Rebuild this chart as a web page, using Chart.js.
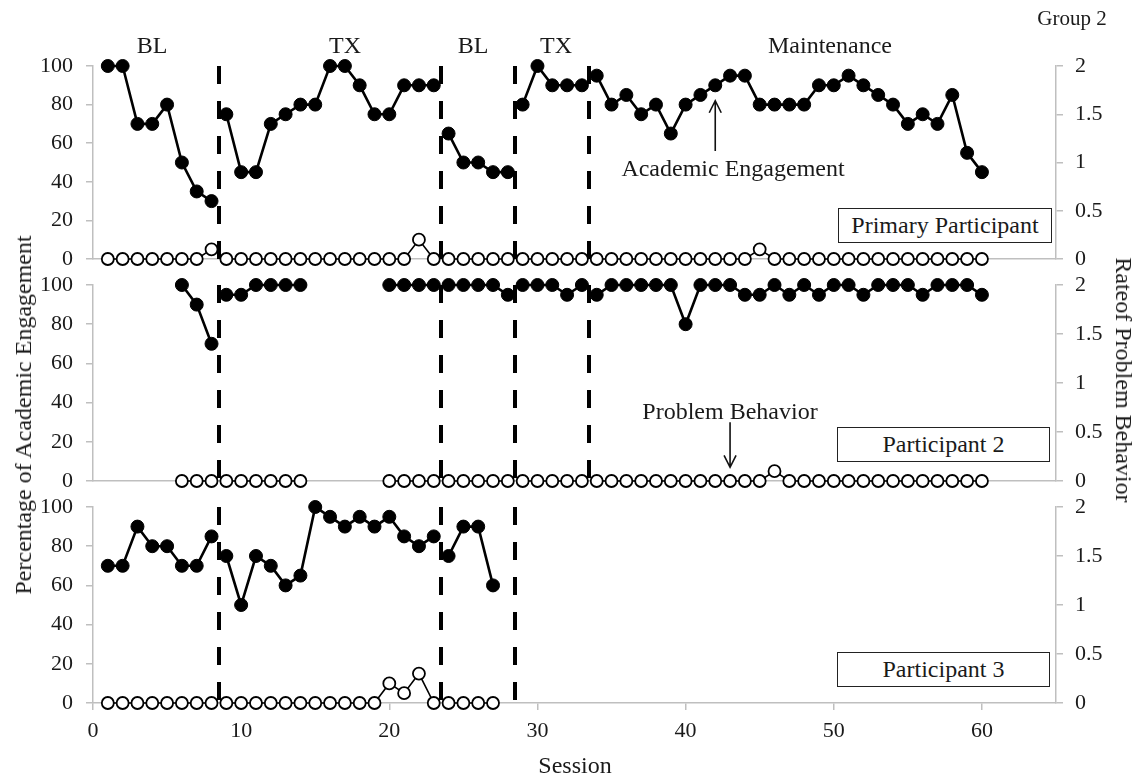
<!DOCTYPE html>
<html>
<head>
<meta charset="utf-8">
<script src="https://cdn.jsdelivr.net/npm/chart.js@4.4.1/dist/chart.umd.min.js"></script>
<style>
  body { margin: 0; background: #fff; }
  #wrap { position: relative; width: 1141px; height: 778px; font-family: "Liberation Serif", "Times New Roman", serif; color: #1a1a1a; }
  #wrap canvas { position: absolute; left: 0; top: 0; }
  .lbl { position: absolute; transform: translate(-50%, -50%); white-space: nowrap; font-size: 24px; line-height: 1; }
  .rotL { transform: translate(-50%, -50%) rotate(-90deg); }
  .rotR { transform: translate(-50%, -50%) rotate(90deg); }
  .box { position: absolute; border: 1.5px solid #222; background: #fff; box-sizing: border-box; font-size: 24px;
         display: flex; align-items: center; justify-content: center; white-space: nowrap; }
</style>
</head>
<body>
<div id="wrap">
  <canvas id="panel1" width="1141" height="778"></canvas>
  <canvas id="panel2" width="1141" height="778"></canvas>
  <canvas id="panel3" width="1141" height="778"></canvas>

  <div class="lbl" style="left:1072px; top:18px; font-size:21px;">Group 2</div>
  <div class="lbl" style="left:152px; top:45px;">BL</div>
  <div class="lbl" style="left:345px; top:45px;">TX</div>
  <div class="lbl" style="left:473px; top:45px;">BL</div>
  <div class="lbl" style="left:556px; top:45px;">TX</div>
  <div class="lbl" style="left:830px; top:45px;">Maintenance</div>

  <div class="lbl" style="left:733px; top:168px;">Academic Engagement</div>
  <div class="lbl" style="left:730px; top:411px;">Problem Behavior</div>

  <div class="box" style="left:838px; top:208px; width:214px; height:35px;">Primary Participant</div>
  <div class="box" style="left:837px; top:427px; width:213px; height:35px;">Participant 2</div>
  <div class="box" style="left:837px; top:652px; width:213px; height:35px;">Participant 3</div>

  <div class="lbl rotL" style="left:23px; top:415px;">Percentage of Academic Engagement</div>
  <div class="lbl rotR" style="left:1124px; top:380px;">Rateof Problem Behavior</div>
  <div class="lbl" style="left:575px; top:765px;">Session</div>
</div>

<script>
// sessions 1..60
const sessions = Array.from({ length: 60 }, (_, i) => i + 1);
const xTicks = [0, 10, 20, 30, 40, 50, 60];
const leftTicks = [0, 20, 40, 60, 80, 100];
const rightTicks = [0, 0.5, 1, 1.5, 2];

// Primary participant
const p1Engagement = [100, 100, 70, 70, 80, 50, 35, 30,
  75, 45, 45, 70, 75, 80, 80, 100, 100, 90, 75, 75, 90, 90, 90,
  65, 50, 50, 45, 45,
  80, 100, 90, 90, 90,
  95, 80, 85, 75, 80, 65, 80, 85, 90, 95, 95, 80, 80, 80, 80, 90, 90, 95, 90, 85, 80, 70, 75, 70, 85, 55, 45];
const p1Problem = [0, 0, 0, 0, 0, 0, 0, 0.1,
  0, 0, 0, 0, 0, 0, 0, 0, 0, 0, 0, 0, 0, 0.2, 0,
  0, 0, 0, 0, 0,
  0, 0, 0, 0, 0,
  0, 0, 0, 0, 0, 0, 0, 0, 0, 0, 0, 0.1, 0, 0, 0, 0, 0, 0, 0, 0, 0, 0, 0, 0, 0, 0, 0];

// Participant 2
const p2Engagement = [null, null, null, null, null, 100, 90, 70,
  95, 95, 100, 100, 100, 100, null, null, null, null, null, 100, 100, 100, 100,
  100, 100, 100, 100, 95,
  100, 100, 100, 95, 100,
  95, 100, 100, 100, 100, 100, 80, 100, 100, 100, 95, 95, 100, 95, 100, 95, 100, 100, 95, 100, 100, 100, 95, 100, 100, 100, 95];
const p2Problem = [null, null, null, null, null, 0, 0, 0,
  0, 0, 0, 0, 0, 0, null, null, null, null, null, 0, 0, 0, 0,
  0, 0, 0, 0, 0,
  0, 0, 0, 0, 0,
  0, 0, 0, 0, 0, 0, 0, 0, 0, 0, 0, 0, 0.1, 0, 0, 0, 0, 0, 0, 0, 0, 0, 0, 0, 0, 0, 0];

// Participant 3
const p3Engagement = [70, 70, 90, 80, 80, 70, 70, 85,
  75, 50, 75, 70, 60, 65, 100, 95, 90, 95, 90, 95, 85, 80, 85,
  75, 90, 90, 60];
const p3Problem = [0, 0, 0, 0, 0, 0, 0, 0,
  0, 0, 0, 0, 0, 0, 0, 0, 0, 0, 0, 0.2, 0.1, 0.3, 0,
  0, 0, 0, 0];

const phases1 = [8.5, 23.5, 28.5, 33.5];
const phases2 = [8.5, 23.5, 28.5, 33.5];
const phases3 = [8.5, 23.5, 28.5];

const axisGrey = '#bfbfbf';
const serif = 'Liberation Serif';
Chart.defaults.font.family = serif;

// split the series at the phase change lines
function buildPoints(values, breaks) {
  const pts = [];
  values.forEach((v, i) => {
    const s = sessions[i];
    breaks.forEach(b => { if (b > s - 1 && b < s) pts.push({ x: b, y: null }); });
    pts.push({ x: s, y: v });
  });
  return pts;
}

function panelPlugin(lines, arrows) {
  return {
    id: 'panelExtras',
    beforeDatasetsDraw(chart) {
      const { ctx, chartArea, scales } = chart;
      ctx.save();
      ctx.strokeStyle = '#000';
      ctx.lineWidth = 4;
      ctx.setLineDash([18, 17]);
      lines.forEach(v => {
        const x = Math.round(scales.x.getPixelForValue(v));
        ctx.beginPath();
        ctx.moveTo(x, chartArea.top);
        ctx.lineTo(x, chartArea.bottom);
        ctx.stroke();
      });
      ctx.restore();
    },
    afterDatasetsDraw(chart) {
      const { ctx, scales } = chart;
      ctx.save();
      ctx.strokeStyle = '#111';
      ctx.lineWidth = 1.6;
      arrows.forEach(a => {
        const x = scales.x.getPixelForValue(a.x);
        const y0 = scales.y.getPixelForValue(a.from);
        const y1 = scales.y.getPixelForValue(a.to);
        const dir = y1 < y0 ? 1 : -1;
        ctx.beginPath();
        ctx.moveTo(x, y0);
        ctx.lineTo(x, y1);
        ctx.moveTo(x - 6, y1 + dir * 12);
        ctx.lineTo(x, y1);
        ctx.lineTo(x + 6, y1 + dir * 12);
        ctx.stroke();
      });
      ctx.restore();
    }
  };
}

function makePanel(id, engagement, problem, phases, top, bottom, showX, arrows) {
  const xh = showX ? 50 : 0;
  return new Chart(document.getElementById(id), {
    type: 'line',
    data: {
      datasets: [{
        label: 'Problem Behavior',
        data: buildPoints(problem, phases),
        yAxisID: 'y2',
        borderColor: '#000',
        borderWidth: 1.6,
        pointRadius: 6,
        pointBorderWidth: 1.8,
        pointBackgroundColor: '#fff',
        pointBorderColor: '#000',
        spanGaps: false,
        tension: 0,
        clip: false
      }, {
        label: 'Academic Engagement',
        data: buildPoints(engagement, phases),
        yAxisID: 'y',
        borderColor: '#000',
        backgroundColor: '#000',
        borderWidth: 2.6,
        pointRadius: 6.5,
        pointBorderWidth: 1,
        pointBackgroundColor: '#000',
        pointBorderColor: '#000',
        spanGaps: false,
        tension: 0,
        clip: false
      }]
    },
    options: {
      responsive: false,
      animation: false,
      events: [],
      layout: { padding: { top: top, bottom: 778 - bottom - xh, left: 0, right: 0 } },
      plugins: { legend: { display: false }, tooltip: { enabled: false } },
      scales: {
        x: {
          type: 'linear',
          min: 0,
          max: 65,
          afterBuildTicks: s => { s.ticks = xTicks.map(v => ({ value: v })); },
          afterFit: s => { s.height = xh; },
          ticks: { display: showX, font: { size: 22 }, color: '#1a1a1a', padding: 8, maxRotation: 0, callback: v => String(v) },
          grid: { drawOnChartArea: false, drawTicks: showX, tickLength: 7, color: axisGrey, lineWidth: 1.5 },
          border: { display: true, color: axisGrey, width: 1.5 }
        },
        y: {
          position: 'left',
          min: 0,
          max: 100,
          afterBuildTicks: s => { s.ticks = leftTicks.map(v => ({ value: v })); },
          afterFit: s => { s.width = 93; },
          ticks: { font: { size: 22 }, color: '#1a1a1a', padding: 13, callback: v => String(v) },
          grid: { drawOnChartArea: false, tickLength: 7, color: axisGrey, lineWidth: 1.5 },
          border: { display: true, color: axisGrey, width: 1.5 }
        },
        y2: {
          position: 'right',
          min: 0,
          max: 2,
          afterBuildTicks: s => { s.ticks = rightTicks.map(v => ({ value: v })); },
          afterFit: s => { s.width = 85; },
          ticks: { font: { size: 22 }, color: '#1a1a1a', padding: 12, callback: v => String(v) },
          grid: { drawOnChartArea: false, tickLength: 7, color: axisGrey, lineWidth: 1.5 },
          border: { display: true, color: axisGrey, width: 1.5 }
        }
      }
    },
    plugins: [panelPlugin(phases, arrows)]
  });
}

makePanel('panel1', p1Engagement, p1Problem, phases1, 66, 259, false,
  [{ x: 42, from: 56, to: 82 }]);
makePanel('panel2', p2Engagement, p2Problem, phases2, 285, 481, false,
  [{ x: 43, from: 30, to: 7 }]);
makePanel('panel3', p3Engagement, p3Problem, phases3, 507, 703, true, []);
</script>
</body>
</html>
